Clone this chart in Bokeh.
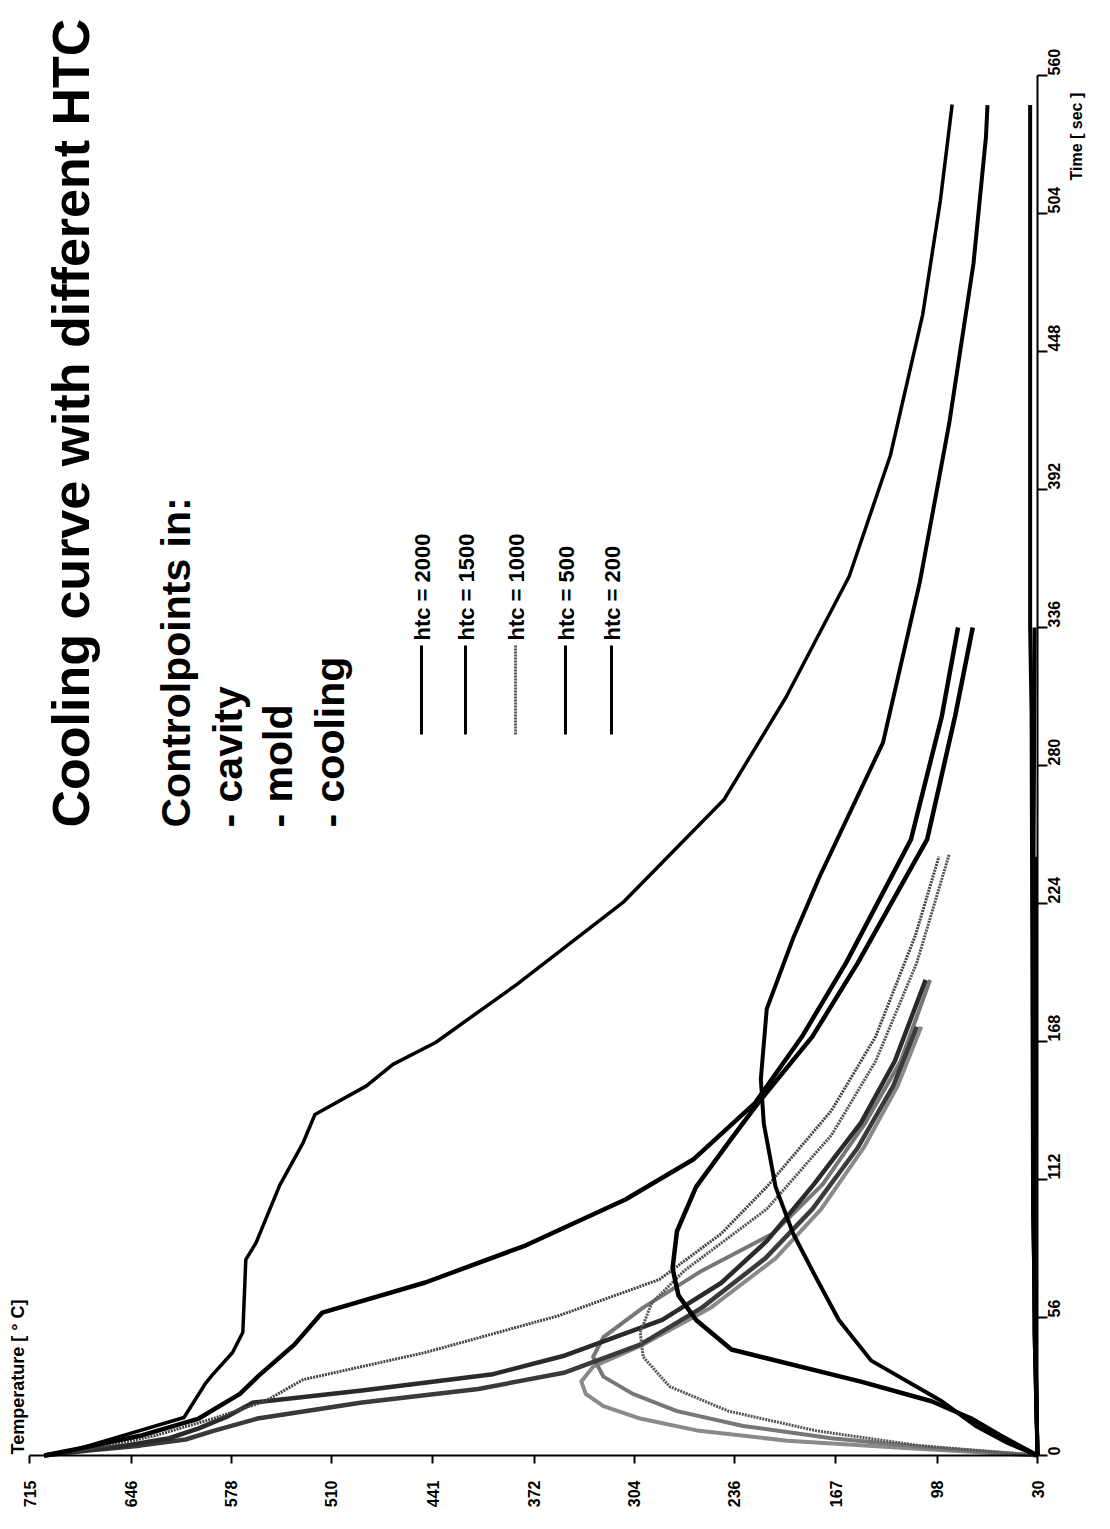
import math
from bokeh.plotting import figure
from bokeh.models import Range1d, FixedTicker, Label
from bokeh.embed import file_html
from bokeh.resources import INLINE

# ---------------- data ----------------
time_ticks = [0, 56, 112, 168, 224, 280, 336, 392, 448, 504, 560]
temp_ticks = [715, 646, 578, 510, 441, 372, 304, 236, 167, 98, 30]
temp_tick_labels = ["715", "646", "578", "510", "441", "372", "304", "236", "167", "98", "30"]
legend_labels = ["htc = 2000", "htc = 1500", "htc = 1000", "htc = 500", "htc = 200"]

# cavity control points
cav200_t = [0, 2, 15.4, 29.6, 32.5, 41.8, 50, 65, 79.5, 86.4, 109.6, 127, 138.4, 150, 158.7, 167.6, 191.1, 224.8, 266.2, 307.6, 356.7, 405.8, 463, 509.3, 548.2]
cav200_T = [705, 686, 610, 595, 591, 577, 570, 569, 568, 561, 545, 529, 521, 486, 468, 439, 384, 311, 243, 201, 158, 130, 108, 96, 88]
cav500_t = [0, 3, 8, 15, 25, 32.5, 45, 58, 70.2, 85.2, 103.9, 120.1, 143, 170, 200, 250, 300, 336]
cav500_T = [705, 680, 640, 600, 572, 559, 535, 516, 446, 378, 310, 264, 222, 190, 160, 116, 95, 84]
cav1000_t = [0, 3, 8, 15, 22, 30.8, 41.8, 56.8, 71.4, 90, 109, 140, 170, 211, 243]
cav1000_T = [705, 670, 630, 590, 555, 529, 446, 355, 287, 245, 214, 170, 140, 113, 97]
cav1500_t = [0, 2, 4, 7, 11, 16, 21.5, 26.4, 33, 40.6, 55, 70, 87, 110, 135, 160, 193]
cav1500_T = [705, 680, 650, 620, 600, 580, 563, 489, 400, 351, 285, 245, 214, 182, 150, 127, 106]
cav2000_t = [0, 2, 4, 6.5, 10, 15, 21.5, 27, 33.7, 45, 60, 80, 100, 125, 150, 174]
cav2000_T = [705, 675, 640, 609, 590, 560, 489, 410, 351, 300, 258, 215, 183, 152, 128, 112]

# mold control points
mold200_t = [0, 5, 12, 22, 38.5, 55, 71.6, 90, 109, 134.7, 152.7, 181.2, 210, 235, 289.3, 354.3, 418.8, 483.7, 535.2, 548]
mold200_T = [30, 50, 72, 95, 143, 165, 180, 196, 208, 216, 218, 214, 196, 178, 135, 110, 90, 73.5, 65, 64]
mold500_t = [0, 8, 15, 22, 30, 43, 55, 65, 76, 91, 109, 128.6, 143.7, 170, 200, 250, 300, 336]
mold500_T = [30, 55, 75, 102, 150, 238, 262, 274, 278, 275, 262, 238, 219, 183, 152, 105, 86, 74]
mold1000_t = [0, 4, 10, 18, 28, 40, 50, 62, 75, 100, 130, 160, 200, 244]
mold1000_T = [30, 110, 180, 240, 280, 298, 300, 292, 270, 214, 170, 140, 112, 90]
mold1500_t = [0, 3, 7, 12, 18, 25, 32, 40, 48, 60, 75, 90, 110, 135, 160, 193]
mold1500_T = [30, 100, 170, 230, 275, 305, 325, 332, 325, 298, 258, 210, 176, 147, 123, 103]
mold2000_t = [0, 3, 6, 10, 15, 20, 25, 30, 36, 45, 60, 80, 100, 125, 150, 174]
mold2000_T = [30, 120, 200, 260, 300, 325, 337, 340, 332, 298, 252, 208, 177, 148, 125, 109]

# cooling channel control points
cool200_t = [0, 100, 300, 336, 548]
cool200_T = [30, 33, 34, 35, 35]
cool500_t = [0, 100, 200, 336]
cool500_T = [30, 33, 33, 32]
cool1000_t = [0, 60, 150, 243]
cool1000_T = [30, 32, 32, 31]
cool1500_t = [0, 50, 120, 193]
cool1500_T = [30, 32, 32, 31]
cool2000_t = [0, 50, 120, 174]
cool2000_T = [30, 32, 32, 31]

# ---------------- layout ----------------
W, H = 1088, 1508
FL, FR, FT, FB = 37, 1045, 83, 1463   # axis extents in page pixels
T_LEFT, T_RIGHT = 715, 30
t_BOTTOM, t_TOP = 0, 560


def px_T(x):
    return T_LEFT - (x - FL) * (T_LEFT - T_RIGHT) / (FR - FL)


def px_t(y):
    return (FB - y) * (t_TOP - t_BOTTOM) / (FB - FT)


FONT = "Liberation Sans"

p = figure(width=W, height=H, output_backend="svg", toolbar_location=None,
           x_range=Range1d(px_T(8), px_T(8 + W)), y_range=Range1d(px_t(8 + H), px_t(8)),
           y_axis_location="right", min_border=0)
p.title.visible = False
p.outline_line_color = None
p.grid.visible = False
p.background_fill_color = "white"
p.border_fill_color = "white"

for ax in (p.xaxis[0], p.yaxis[0]):
    ax.axis_line_color = "black"
    ax.axis_line_width = 2
    ax.major_tick_line_color = "black"
    ax.major_tick_line_width = 2
    ax.major_tick_in = 0
    ax.minor_tick_line_color = None
    ax.major_label_text_font = FONT
    ax.major_label_text_font_style = "bold"
    ax.major_label_text_color = "black"
    ax.major_label_text_font_size = "16px"
    ax.major_label_orientation = math.pi / 2

p.xaxis.ticker = FixedTicker(ticks=temp_ticks)
p.xaxis.major_label_overrides = {v: s for v, s in zip(temp_ticks, temp_tick_labels)}
p.xaxis.major_tick_out = 8
p.xaxis.major_label_standoff = 17
p.xaxis.fixed_location = t_BOTTOM
p.xaxis.bounds = (T_RIGHT, T_LEFT)
p.yaxis.ticker = FixedTicker(ticks=time_ticks)
p.yaxis.major_tick_out = 10
p.yaxis.major_label_standoff = 6
p.yaxis.fixed_location = T_RIGHT
p.yaxis.bounds = (t_BOTTOM, t_TOP)

series = [
    (cool200_t, cool200_T, "black", 4, "solid"),
    (cool500_t, cool500_T, "black", 4, "solid"),
    (cool1000_t, cool1000_T, "black", 4, "solid"),
    (cool1500_t, cool1500_T, "black", 4, "solid"),
    (cool2000_t, cool2000_T, "black", 4, "solid"),
    (mold2000_t, mold2000_T, "#8a8a8a", 4, "solid"),
    (mold1500_t, mold1500_T, "#777777", 4, "solid"),
    (cav2000_t, cav2000_T, "#3a3a3a", 4.5, "solid"),
    (cav1500_t, cav1500_T, "#2a2a2a", 4.5, "solid"),
    (mold1000_t, mold1000_T, "#555555", 3, "2 1"),
    (cav1000_t, cav1000_T, "#444444", 3, "2 1"),
    (mold500_t, mold500_T, "black", 4.5, "solid"),
    (cav500_t, cav500_T, "black", 4.5, "solid"),
    (mold200_t, mold200_T, "black", 4, "solid"),
    (cav200_t, cav200_T, "black", 3.5, "solid"),
]
for tt, TT, col, lw, dash in series:
    p.line(TT, tt, line_color=col, line_width=lw, line_dash=dash, line_join="round")

# legend (vertical lines with rotated labels)
legend_x = [429, 473, 523, 573, 619]
legend_style = [("black", "solid"), ("black", "solid"), ("#555555", "2 1"), ("black", "solid"), ("black", "solid")]
for lx, lab, (col, dash) in zip(legend_x, legend_labels, legend_style):
    p.line([px_T(lx), px_T(lx)], [px_t(742), px_t(653)], line_color=col, line_width=3, line_dash=dash)
    p.add_layout(Label(x=px_T(lx + 1), y=px_t(648), text=lab, angle=math.pi / 2,
                       text_font=FONT, text_font_style="bold", text_font_size="22px",
                       text_align="left", text_baseline="alphabetic", text_color="black"))

texts = [
    ("Cooling curve with different HTC", 78, 835, "52px"),
    ("Controlpoints in:", 183, 835, "41px"),
    ("- cavity", 235, 835, "41px"),
    ("- mold", 285, 835, "41px"),
    ("- cooling", 337, 835, "41px"),
    ("Temperature [ \u00b0 C]", 25, 1462, "18px"),
    ("Time [ sec ]", 1084, 188, "16px"),
]
for txt, bx, sy, fs in texts:
    p.add_layout(Label(x=px_T(bx), y=px_t(sy), text=txt, angle=math.pi / 2,
                       text_font=FONT, text_font_style="bold", text_font_size=fs,
                       text_align="left", text_baseline="alphabetic", text_color="black"))

open("out.html", "w").write(file_html(p, INLINE))
